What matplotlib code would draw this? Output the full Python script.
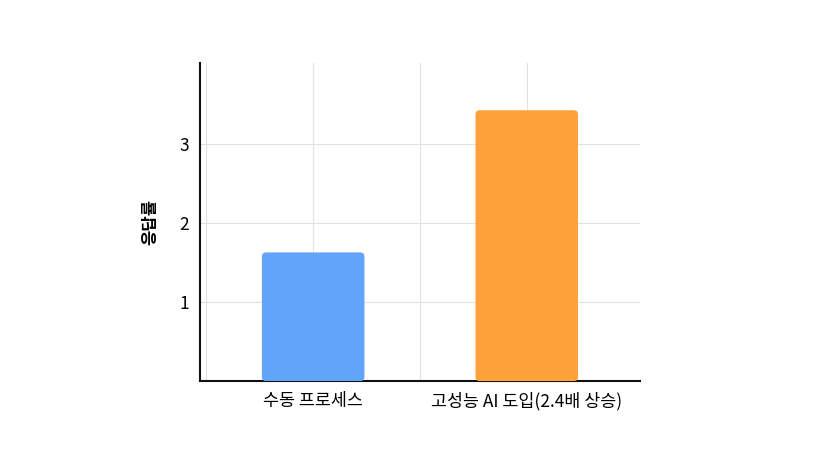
import matplotlib
matplotlib.use("Agg")
import matplotlib.pyplot as plt
from matplotlib.patches import FancyBboxPatch

plt.rcParams['font.family'] = ['Noto Sans CJK KR', 'DejaVu Sans']

categories = ["수동 프로세스", "고성능 AI 도입(2.4배 상승)"]
values = [1.63, 3.43]
colors = ["#60A5FA", "#FFA23A"]
yticks = [1, 2, 3]

fig = plt.figure(figsize=(8.28, 4.62), dpi=100)
ax = fig.add_axes([0.2415, 0.175, 0.5314, 0.689])
x = list(range(len(categories)))
bars = ax.bar(x, values, width=0.48, color=colors, zorder=3)
for b, c in zip(bars, colors):
    b.set_visible(False)
    p = FancyBboxPatch((b.get_x(), 0), b.get_width(), b.get_height(),
                       boxstyle="round,pad=0,rounding_size=0.02",
                       mutation_aspect=4.03 / 2.06 * 440 / 318,
                       facecolor=c, edgecolor='none', zorder=3)
    ax.add_patch(p)
ax.set_xlim(-0.53, 1.53)
ax.set_ylim(0, 4.03)
ax.set_xticks(x)
ax.set_xticklabels(categories, fontsize=12.5, fontweight='medium')
ax.set_yticks(yticks)
ax.set_yticklabels([str(t) for t in yticks], fontsize=12.5)
ax.set_xticks([-0.5, 0.5], minor=True)
ax.grid(True, which='both', color='#dde1ea', linewidth=0.8, zorder=0)
ax.tick_params(which='both', length=0, pad=8)
ax.set_ylabel("응답률", fontsize=12, fontweight='bold', labelpad=14)
for s in ['top', 'right']:
    ax.spines[s].set_visible(False)
for s in ['left', 'bottom']:
    ax.spines[s].set_color('#111111')
    ax.spines[s].set_linewidth(1.5)
fig.savefig("out.png", dpi=100)
